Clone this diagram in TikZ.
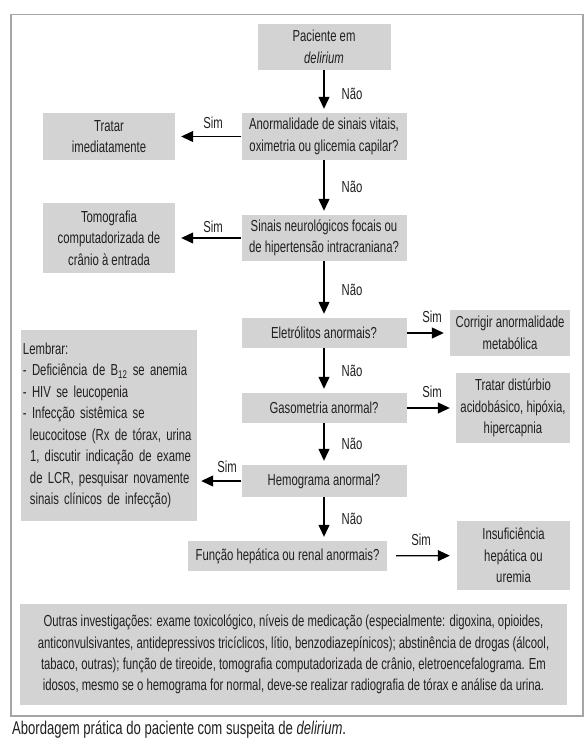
\documentclass[tikz,border=0pt]{standalone}
\usepackage{fontspec}
\setmainfont{Liberation Sans}[FakeStretch=0.71]
\usetikzlibrary{arrows.meta}
\definecolor{boxgray}{RGB}{211,211,211}
\definecolor{framegray}{RGB}{165,165,165}
\definecolor{ink}{RGB}{35,31,32}
\newcommand{\lembline}[1]{\mbox{\kern2bp #1}}
\newcommand{\lembcont}[1]{\mbox{\kern9bp #1}}
\begin{document}
\begin{tikzpicture}[x=1bp,y=-1bp,
  txt/.style={font=\fontsize{16}{21.5}\selectfont, text=ink},
  gbox/.style={txt, fill=boxgray, draw=none, inner sep=0pt, align=center},
  lab/.style={txt, inner sep=0pt},
  arr/.style={draw=black, line width=1.2bp, -{Triangle[length=12bp,width=11bp]}},
  downarr/.style={arr, shorten >=4bp},
  sidearr/.style={arr, shorten >=6bp}]
\useasboundingbox (0,0) rectangle (586,747);
\fill[white] (0,0) rectangle (586,747);
\draw[framegray, line width=1.4bp] (11,14.5) rectangle (583,716);
% central column
\node[gbox, minimum width=133bp, minimum height=46bp] (pac) at (324,47) {Paciente em\\\textit{delirium}};
\node[gbox, minimum width=165bp, minimum height=47bp] (anorm) at (324,136.5) {Anormalidade de sinais vitais,\\oximetria ou glicemia capilar?};
\node[gbox, minimum width=165bp, minimum height=46bp] (sinais) at (324,238) {Sinais neurológicos focais ou\\de hipertensão intracraniana?};
\node[gbox, minimum width=165bp, minimum height=30bp] (eletr) at (324,333) {Eletrólitos anormais?};
\node[gbox, minimum width=165bp, minimum height=30bp] (gaso) at (324,408) {Gasometria anormal?};
\node[gbox, minimum width=165bp, minimum height=32bp] (hemo) at (324,481) {Hemograma anormal?};
\node[gbox, minimum width=199bp, minimum height=30bp] (func) at (287.5,556) {Função hepática ou renal anormais?};
% left column
\node[gbox, minimum width=132bp, minimum height=47bp] (tratar) at (109,136.5) {Tratar\\imediatamente};
\node[gbox, minimum width=132bp, minimum height=70bp] (tomo) at (109,238) {Tomografia\\computadorizada de\\crânio à entrada};
\node[gbox, align=left, text width=176bp, inner xsep=0pt, inner ysep=0pt, minimum height=191bp, font=\fontsize{16}{21.6}\selectfont] (lemb) at (109,425.5) {\lembline{Lembrar:}\\\lembline{- Deficiência de B\textsubscript{12} se anemia}\\\lembline{- HIV se leucopenia}\\\lembline{- Infecção sistêmica se}\\\lembcont{leucocitose (Rx de tórax, urina}\\\lembcont{1, discutir indicação de exame}\\\lembcont{de LCR, pesquisar novamente}\\\lembcont{sinais clínicos de infecção)}};
% right column
\node[gbox, minimum width=120bp, minimum height=46bp] (corr) at (510,333) {Corrigir anormalidade\\metabólica};
\node[gbox, minimum width=114bp, minimum height=70bp] (trdist) at (513,408) {Tratar distúrbio\\acidobásico, hipóxia,\\hipercapnia};
\node[gbox, minimum width=113bp, minimum height=69bp] (insuf) at (513.5,555.5) {Insuficiência\\hepática ou\\uremia};
% bottom box
\node[gbox, minimum width=547bp, minimum height=101bp] (outras) at (293.5,654.5) {Outras investigações: exame toxicológico, níveis de medicação (especialmente: digoxina, opioides,\\anticonvulsivantes, antidepressivos tricíclicos, lítio, benzodiazepínicos); abstinência de drogas (álcool,\\tabaco, outras); função de tireoide, tomografia computadorizada de crânio, eletroencefalograma. Em\\idosos, mesmo se o hemograma for normal, deve-se realizar radiografia de tórax e análise da urina.};
% caption
\node[txt, font=\fontsize{18.5}{22}\selectfont, anchor=west, inner sep=0pt] (cap) at (12,730) {Abordagem prática do paciente com suspeita de \textit{delirium}.};
% arrows down
\draw[downarr] (pac) -- (anorm);
\draw[downarr] (anorm) -- (sinais);
\draw[downarr] (sinais) -- (eletr);
\draw[downarr] (eletr) -- (gaso);
\draw[downarr] (gaso) -- (hemo);
\draw[downarr] (hemo.south) -- (hemo.south |- func.north);
% side arrows
\draw[sidearr] (anorm) -- (tratar);
\draw[sidearr] (sinais) -- (tomo);
\draw[sidearr] (eletr) -- (corr);
\draw[sidearr] (gaso) -- (trdist);
\draw[arr, shorten >=4bp] (hemo.west) -- (hemo.west -| lemb.east);
\draw[arr, shorten <=9bp, shorten >=7bp] (func) -- (insuf);
% labels
\node[lab] (n1) at (352,94) {Não};
\node[lab] (n2) at (352,187) {Não};
\node[lab] (n3) at (352,290) {Não};
\node[lab] (n4) at (352,371) {Não};
\node[lab] (n5) at (352,444) {Não};
\node[lab] (n6) at (352,519) {Não};
\node[lab] (s1) at (213,123) {Sim};
\node[lab] (s2) at (213,227) {Sim};
\node[lab] (s3) at (432,317) {Sim};
\node[lab] (s4) at (432,392) {Sim};
\node[lab] (s5) at (227,467) {Sim};
\node[lab] (s6) at (421,540) {Sim};
\end{tikzpicture}
\end{document}
